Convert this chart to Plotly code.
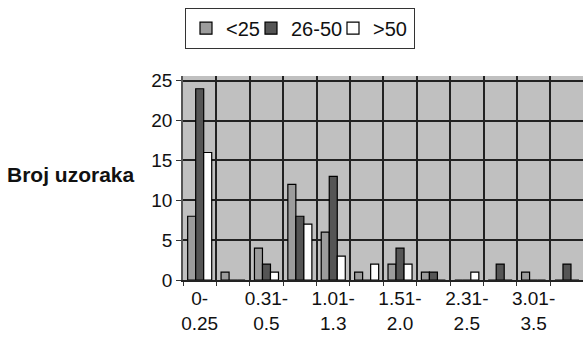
import plotly.graph_objects as go

categories = ["0-<br>0.25", "0.26-<br>0.30", "0.31-<br>0.5", "0.51-<br>1.0", "1.01-<br>1.3", "1.31-<br>1.5",
              "1.51-<br>2.0", "2.01-<br>2.3", "2.31-<br>2.5", "2.51-<br>3.0", "3.01-<br>3.5", ">3.5"]
shown_labels = ["0-<br>0.25", "", "0.31-<br>0.5", "", "1.01-<br>1.3", "",
                "1.51-<br>2.0", "", "2.31-<br>2.5", "", "3.01-<br>3.5", ""]
series_names = ["<25", "26-50", ">50"]
under25 = [8, 1, 4, 12, 6, 1, 2, 1, 0, 0, 1, 0]
from26to50 = [24, 0, 2, 8, 13, 0, 4, 1, 0, 2, 0, 2]
over50 = [16, 0, 1, 7, 3, 2, 2, 0, 1, 0, 0, 0]
y_ticks = [0, 5, 10, 15, 20, 25]

colors = ["#9c9c9c", "#555555", "#ffffff"]
legend_widths = [20, 37, 36]
fig = go.Figure()
for name, vals, col, lw in zip(series_names, [under25, from26to50, over50], colors, legend_widths):
    fig.add_trace(go.Bar(x=categories, y=vals, name=name, legendwidth=lw,
                         marker=dict(color=col, line=dict(color="#000000", width=1.2))))

FAM = "Liberation Sans, Arial, sans-serif"
font = dict(family=FAM, size=19, color="#111111")
fig.update_layout(
    width=583, height=342,
    margin=dict(l=183, r=0, t=76, b=62),
    paper_bgcolor="white", plot_bgcolor="#c0c0c0",
    barmode="group", bargap=0.28, bargroupgap=0,
    font=font,
    showlegend=True,
    legend=dict(orientation="h", x=0.005, xanchor="left", y=1.335, yanchor="top",
                bordercolor="#333333", borderwidth=1, bgcolor="white",
                font=dict(family=FAM, size=20, color="#111111"),
                itemwidth=30, traceorder="normal", tracegroupgap=0),
    xaxis=dict(type="category", range=[-0.5, 11.48], tickson="boundaries",
               tickmode="array", tickvals=categories, ticktext=shown_labels,
               tickangle=0,
               showgrid=True, gridcolor="#222222", gridwidth=1.5,
               ticks="outside", ticklen=4, tickcolor="#333333",
               showline=True, linecolor="#222222", linewidth=2,
               tickfont=font, fixedrange=True),
    yaxis=dict(range=[0, 25.6], tickvals=y_ticks, showgrid=True, gridcolor="#222222", gridwidth=1.5,
               ticks="outside", ticklen=5, tickcolor="#333333",
               showline=True, linecolor="#555555", linewidth=1.5,
               zeroline=False, tickfont=font),
    annotations=[dict(text="<b>Broj uzoraka</b>", xref="paper", yref="paper", x=-0.115, y=0.515,
                      xanchor="right", yanchor="middle", showarrow=False,
                      font=dict(family=FAM, size=21, color="#111111"))],
)
fig.write_html("out.html")
